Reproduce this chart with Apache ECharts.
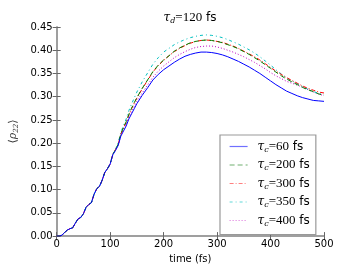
<!DOCTYPE html>
<html><head><meta charset="utf-8">
<script src="https://cdn.jsdelivr.net/npm/echarts@6/dist/echarts.min.js"></script>
<style>html,body{margin:0;padding:0;background:#fff}#c{width:360px;height:269px}</style>
</head><body><div id="c"></div>
<script>
const time = [0,5,10,15,20,25,30,35,40,45,50,55,60,65,70,75,80,85,90,95,100,105,110,115,120,125,130,135,140,145,150,
  160,170,180,190,200,210,220,230,240,250,260,270,280,290,300,310,320,330,340,350,360,370,380,390,400,410,420,430,440,450,460,470,480,490,500];
const tau60 = [0,0,0.002,0.008,0.013,0.016,0.018,0.028,0.037,0.040,0.048,0.062,0.068,0.072,0.090,0.102,0.107,0.120,0.137,0.145,0.155,0.175,0.184,0.195,0.215,0.226,0.237,0.252,0.263,0.274,0.285,
  0.303,0.319,0.336,0.348,0.358,0.366,0.374,0.381,0.387,0.391,0.394,0.396,0.396,0.395,0.393,0.390,0.386,0.381,0.376,0.370,0.364,0.357,0.350,0.342,0.334,0.326,0.319,0.312,0.307,0.302,0.298,0.295,0.292,0.291,0.290];
const tau200 = [0,0,0.002,0.008,0.013,0.016,0.018,0.028,0.037,0.040,0.048,0.062,0.068,0.072,0.090,0.102,0.107,0.120,0.137,0.145,0.155,0.176,0.186,0.198,0.220,0.234,0.246,0.262,0.275,0.287,0.298,
  0.318,0.336,0.354,0.368,0.379,0.388,0.398,0.405,0.411,0.416,0.419,0.421,0.422,0.421,0.419,0.416,0.412,0.408,0.403,0.397,0.391,0.384,0.377,0.369,0.361,0.353,0.345,0.338,0.332,0.326,0.320,0.315,0.311,0.306,0.303];
const tau300 = [0,0,0.002,0.008,0.013,0.016,0.018,0.028,0.037,0.040,0.048,0.062,0.068,0.072,0.090,0.102,0.107,0.120,0.137,0.145,0.155,0.176,0.186,0.197,0.219,0.233,0.245,0.261,0.274,0.286,0.297,
  0.317,0.335,0.353,0.367,0.378,0.388,0.397,0.404,0.410,0.415,0.419,0.421,0.422,0.421,0.419,0.417,0.413,0.409,0.404,0.398,0.392,0.386,0.379,0.371,0.363,0.355,0.348,0.341,0.335,0.329,0.323,0.318,0.314,0.310,0.308];
const tau350 = [0,0,0.002,0.008,0.013,0.016,0.018,0.028,0.037,0.040,0.048,0.062,0.068,0.072,0.090,0.102,0.107,0.120,0.137,0.145,0.155,0.176,0.187,0.200,0.223,0.238,0.252,0.270,0.284,0.297,0.310,
  0.332,0.351,0.370,0.384,0.396,0.404,0.412,0.418,0.423,0.427,0.430,0.432,0.433,0.432,0.430,0.427,0.423,0.418,0.413,0.407,0.401,0.394,0.386,0.377,0.368,0.358,0.349,0.341,0.334,0.328,0.322,0.316,0.311,0.307,0.304];
const tau400 = [0,0,0.002,0.008,0.013,0.016,0.018,0.028,0.037,0.040,0.048,0.062,0.068,0.072,0.090,0.102,0.107,0.120,0.137,0.145,0.155,0.175,0.185,0.196,0.217,0.229,0.240,0.256,0.267,0.279,0.290,
  0.308,0.325,0.342,0.355,0.366,0.375,0.384,0.391,0.397,0.402,0.406,0.408,0.409,0.409,0.407,0.404,0.400,0.396,0.391,0.386,0.380,0.374,0.367,0.360,0.352,0.345,0.339,0.333,0.329,0.325,0.320,0.315,0.310,0.306,0.302];
const seriesNames = ['60','200','300','350','400'];
const xTicks = [0,100,200,300,400,500];
const yTicks = [0,0.05,0.10,0.15,0.20,0.25,0.30,0.35,0.40,0.45];

const values = [tau60,tau200,tau300,tau350,tau400];
const colors = ['#0000ff','#008000','#ff0000','#00bfbf','#bf00bf'];
const legendColors = ['#7070ff','#70b070','#ff8080','#60d8d8','#dd70dd'];
const dashes = ['solid',[5,3],[4,2,1,2],[3,3,1,3],[1,2]];
const chart = echarts.init(document.getElementById('c'));
const spine = {show:true,lineStyle:{color:'#999',width:1.5}};
const tick = {show:true,inside:true,length:4,lineStyle:{color:'#666',width:1}};
const lab = {color:'#000',fontSize:10,fontFamily:'DejaVu Sans'};
const rich = {
  t:{fontFamily:'DejaVu Serif',fontStyle:'italic',fontWeight:'normal',fontSize:12,color:'#000'},
  s:{fontFamily:'DejaVu Serif',fontStyle:'italic',fontWeight:'normal',fontSize:8,color:'#000',verticalAlign:'bottom',padding:[6,0,0,0]},
  e:{fontFamily:'Liberation Serif',fontWeight:'normal',fontSize:13,color:'#000'},
  f:{fontFamily:'DejaVu Sans',fontWeight:'normal',fontSize:12,color:'#000'}
};
chart.setOption({
  animation:false,
  backgroundColor:'#fff',
  title:{text:'{t|τ}{s|d}{e|=120}{f| fs}',left:185,top:6,textAlign:'center',textStyle:{fontWeight:'normal',rich:rich}},
  grid:{left:46,right:36,top:27,bottom:27},
  legend:{
    orient:'vertical',left:220,top:135,
    padding:[5,6,7,9],itemGap:5,itemWidth:18,itemHeight:14,
    borderColor:'#999',borderWidth:1.2,backgroundColor:'#fff',
    itemStyle:{opacity:0},
    data:seriesNames.map((n,i)=>({name:'τc='+n+' fs',lineStyle:{color:legendColors[i],width:1.2,type:dashes[i]}})),
    formatter:function(name){const v=name.replace('τc=','').replace(' fs','');return '{t|τ}{s|c}{e|='+v+'}{f| fs}';},
    textStyle:{padding:[0,0,0,5],rich:rich}
  },
  xAxis:[
    {type:'value',min:0,max:500,interval:100,position:'bottom',axisLine:spine,axisTick:tick,splitLine:{show:false},
     axisLabel:Object.assign({margin:3,formatter:v=>xTicks.includes(v)?String(v):''},lab),
     name:'time (fs)',nameLocation:'middle',nameGap:12,nameTextStyle:lab},
    {type:'value',min:0,max:500,interval:100,position:'top',axisLine:spine,axisTick:tick,splitLine:{show:false},axisLabel:{show:false}}
  ],
  yAxis:[
    {type:'value',min:0,max:0.45,interval:0.05,position:'left',axisLine:spine,axisTick:tick,splitLine:{show:false},
     axisLabel:Object.assign({margin:4,formatter:v=>{const m=yTicks.find(t=>Math.abs(t-v)<1e-9);return m===undefined?'':m.toFixed(2);}},lab),
     name:'{a|⟨}{r|ρ}{b|22}{a|⟩}',nameLocation:'middle',nameGap:33,nameRotate:90,
     nameTextStyle:{rich:{a:{fontFamily:'DejaVu Serif',fontSize:11,color:'#333'},r:{fontFamily:'DejaVu Serif',fontStyle:'italic',fontSize:11,color:'#333'},b:{fontFamily:'DejaVu Serif',fontStyle:'italic',fontSize:7,color:'#333',verticalAlign:'bottom',padding:[5,0,0,0]}}}},
    {type:'value',min:0,max:0.45,interval:0.05,position:'right',axisLine:spine,axisTick:tick,splitLine:{show:false},axisLabel:{show:false}}
  ],
  series:values.map((arr,i)=>({
    name:'τc='+seriesNames[i]+' fs',type:'line',showSymbol:false,symbol:'none',
    data:time.map((t,j)=>[t,arr[j]]),
    lineStyle:{color:colors[i],width:1,type:dashes[i]},itemStyle:{color:colors[i]},z:10-i
  }))
});
</script></body></html>
